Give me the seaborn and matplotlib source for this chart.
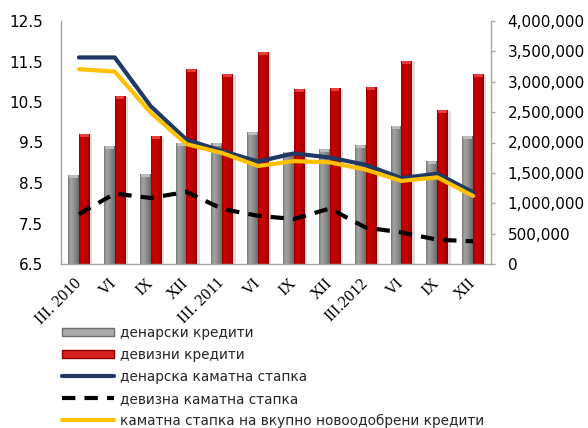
import numpy as np
import pandas as pd
import matplotlib
matplotlib.use("Agg")
import matplotlib.pyplot as plt
from matplotlib.patches import Patch, Rectangle
from matplotlib.lines import Line2D
from matplotlib.colors import LinearSegmentedColormap
from matplotlib.ticker import FuncFormatter, FixedLocator, MultipleLocator
import seaborn as sns

# Quarters (Roman-numeral months)
periods = ["III. 2010", "VI", "IX", "XII", "III. 2011", "VI", "IX", "XII",
           "III.2012", "VI", "IX", "XII"]

# Loan volumes (right axis)
denar_loans = [1465000, 1945000, 1480000, 1990000, 1995000, 2165000,
               1850000, 1885000, 1960000, 2270000, 1695000, 2107000]
fx_loans = [2140000, 2765000, 2110000, 3210000, 3128000, 3495000,
            2880000, 2897000, 2920000, 3340000, 2540000, 3128000]

# Interest rates, % (left axis)
denar_rate = [11.60, 11.60, 10.40, 9.57, 9.29, 9.03, 9.23, 9.13, 8.95, 8.62, 8.73, 8.27]
fx_rate = [7.73, 8.24, 8.13, 8.28, 7.86, 7.69, 7.61, 7.87, 7.40, 7.28, 7.10, 7.06]
total_rate = [11.31, 11.25, 10.24, 9.46, 9.24, 8.92, 9.04, 9.01, 8.83, 8.55, 8.64, 8.18]

rate_ticks = [6.5, 7.5, 8.5, 9.5, 10.5, 11.5, 12.5]

labels = ["денарски кредити", "девизни кредити", "денарска каматна стапка",
          "девизна каматна стапка", "каматна стапка на вкупно новоодобрени кредити"]

GRAY = "#808080"
RED = "#c00000"
NAVY = "#1f3864"
GOLD = "#ffc000"
SPINE = "#a6a6a6"

sns.set_theme(style="white")
plt.rcParams["font.family"] = ["DejaVu Sans"]

fig = plt.figure(figsize=(5.88, 4.28), dpi=100)
ax_bar = fig.add_axes([61 / 588, 164 / 428, 430 / 588, 243 / 428])

idx = list(range(len(periods)))
bars = pd.DataFrame({
    "idx": idx * 2,
    "value": denar_loans + fx_loans,
    "series": [labels[0]] * len(idx) + [labels[1]] * len(idx),
})
sns.barplot(data=bars, x="idx", y="value", hue="series",
            palette=[GRAY, RED], width=0.6, saturation=1,
            legend=False, ax=ax_bar, edgecolor="none")

ax_bar.set_ylim(0, 4000000)
ax_bar.set_xlim(-0.5, len(idx) - 0.5)

# cylinder-like shading, soft drop shadow and a lit top on each bar
gray_cmap = LinearSegmentedColormap.from_list(
    "g", ["#7a7a7a", "#a4a4a4", "#949494", "#808080", "#6a6a6a"])
red_cmap = LinearSegmentedColormap.from_list(
    "r", ["#9a0000", "#cc0000", "#c40000", "#b40000", "#8c0000"])
grad = np.linspace(0, 1, 64).reshape(1, -1)
cap_h = 4000000 * 3 / 243
px = 12 / 430  # one pixel in category units
for patch in list(ax_bar.patches):
    x0, w, h = patch.get_x(), patch.get_width(), patch.get_height()
    if h <= 0:
        continue
    z = patch.get_zorder()
    is_gray = patch.get_facecolor()[0] < 0.6
    shadow = Rectangle((x0 + 2.5 * px, 0), w, h - cap_h * 0.3,
                       facecolor="#dcdcdc", edgecolor="none", zorder=z - 0.5)
    ax_bar.add_patch(shadow)
    cmap = gray_cmap if is_gray else red_cmap
    im = ax_bar.imshow(grad, extent=[x0, x0 + w, 0, h], aspect="auto",
                       cmap=cmap, zorder=z, origin="lower")
    im.set_clip_path(patch)
    cap = Rectangle((x0 + w * 0.1, h - cap_h), w * 0.8, cap_h,
                    facecolor="#bcbcbc" if is_gray else "#ea3c3c",
                    edgecolor="none", zorder=z + 0.1)
    ax_bar.add_patch(cap)

ax_bar.set_ylim(0, 4000000)
ax_bar.set_xlim(-0.5, len(idx) - 0.5)

# lines on the left-hand scale
ax_line = ax_bar.twinx()
sns.lineplot(x=idx, y=denar_rate, ax=ax_line, color=NAVY, linewidth=3.0)
sns.lineplot(x=idx, y=fx_rate, ax=ax_line, color="black", linewidth=3.0,
             linestyle=(0, (3.2, 2.2)))
sns.lineplot(x=idx, y=total_rate, ax=ax_line, color=GOLD, linewidth=3.0)
ax_line.set_ylim(6.5, 12.5)
ax_line.set_xlim(-0.5, len(idx) - 0.5)

# left axis belongs to the rates, right axis to the volumes
ax_bar.yaxis.tick_right()
ax_bar.yaxis.set_label_position("right")
ax_line.yaxis.tick_left()
ax_line.yaxis.set_label_position("left")

ax_line.yaxis.set_major_locator(FixedLocator(rate_ticks))
ax_line.yaxis.set_major_formatter(FuncFormatter(lambda v, p: f"{v:.1f}"))
ax_bar.yaxis.set_major_locator(MultipleLocator(500000))
ax_bar.yaxis.set_major_formatter(FuncFormatter(lambda v, p: f"{int(v):,}"))

for a in (ax_bar, ax_line):
    a.set_xlabel("")
    a.set_ylabel("")
    for s in a.spines.values():
        s.set_visible(False)
for k in ("left", "right", "bottom"):
    ax_bar.spines[k].set_visible(True)
    ax_bar.spines[k].set_color(SPINE)
    ax_bar.spines[k].set_linewidth(1.0)

ax_line.tick_params(axis="y", length=0, pad=13, labelsize=11, labelcolor="black")
ax_bar.tick_params(axis="y", length=3, width=1, color=SPINE, direction="out",
                   pad=9, labelsize=11, labelcolor="black")
ax_bar.tick_params(axis="x", length=0, pad=12)
ax_line.tick_params(axis="x", length=0, labelbottom=False)

ax_bar.set_xticks(idx)
ax_bar.set_xticklabels(periods, rotation=45, ha="right", va="center",
                       rotation_mode="anchor", fontsize=12,
                       family=["Liberation Serif", "DejaVu Serif"], color="black")
ax_line.set_zorder(ax_bar.get_zorder() + 1)
ax_line.patch.set_visible(False)

handles = [
    Patch(facecolor="#ababab", edgecolor="#707070", linewidth=1.0),
    Patch(facecolor="#d62222", edgecolor="#8a0000", linewidth=1.0),
    Line2D([], [], color=NAVY, linewidth=3.0),
    Line2D([], [], color="black", linewidth=3.0, linestyle=(0, (3.2, 2.2))),
    Line2D([], [], color=GOLD, linewidth=3.0),
]
fig.legend(handles, labels, loc="upper left", bbox_to_anchor=(62 / 588, 1 - 326 / 428),
           frameon=False, fontsize=9.8, handlelength=3.8, handleheight=0.55,
           handletextpad=0.45, labelspacing=0.58, borderaxespad=0, borderpad=0)

fig.savefig("out.png", dpi=100)
